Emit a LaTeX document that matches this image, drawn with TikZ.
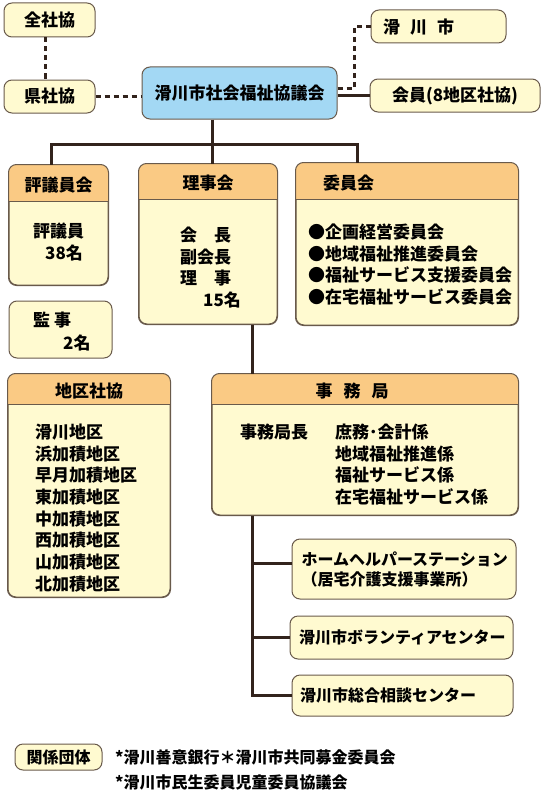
\documentclass[tikz,border=0pt]{standalone}
\usepackage{fontspec}
\setmainfont{Noto Sans CJK JP}
\usepackage{tikz}
\usepackage{xcolor}
\definecolor{creamfill}{RGB}{255,250,208}
\definecolor{headorange}{RGB}{250,202,132}
\definecolor{mainblue}{RGB}{163,216,244}
\definecolor{rimbrown}{RGB}{105,90,75}
\definecolor{linebrown}{RGB}{50,35,28}

\begin{document}
\begin{tikzpicture}[x=1pt, y=-1pt,
    panel/.style={draw=rimbrown, line width=1pt, fill=creamfill, rounded corners=8pt,
        inner sep=0pt, font=\bfseries\fontsize{17}{21.7}\selectfont},
    txt/.style={inner sep=0pt, anchor=west, align=left, font=\bfseries\fontsize{17}{21.7}\selectfont},
    small/.style={font=\bfseries\fontsize{16}{20}\selectfont},
    tree/.style={linebrown, line width=3pt},
    dots/.style={linebrown, line width=3pt, dash pattern=on 5pt off 4pt}]
    \useasboundingbox (0,0) rectangle (544,792);

    % Top row
    \node[panel, minimum width=91pt, minimum height=34pt] (zensha) at (49.5,20) {全社協};
    \node[panel, minimum width=91pt, minimum height=33pt] (kensha) at (49.5,96.5) {県社協};
    \node[panel, fill=mainblue, minimum width=195pt, minimum height=52pt] (main) at (239.5,93) {滑川市社会福祉協議会};
    \node[panel, minimum width=135pt, minimum height=33pt] (city) at (438.5,26.5) {};
    \node[txt] (city-t) at (383,27) {滑\hspace{10pt}川\hspace{10pt}市};
    \node[panel, minimum width=170pt, minimum height=33pt] (member) at (455,95.5) {会員(8地区社協)};

    % Boards
    \node[panel, minimum width=99pt, minimum height=120pt] (hyogi) at (58.5,225) {};
    \node[panel, minimum width=138pt, minimum height=160pt] (riji) at (208,244) {};
    \node[panel, minimum width=222pt, minimum height=162pt] (iin) at (407,244) {};
    \node[panel, minimum width=103pt, minimum height=57pt] (kanji) at (60.5,329.5) {};
    \node[panel, minimum width=162pt, minimum height=223pt] (chiku) at (89,485.5) {};
    \node[panel, minimum width=306pt, minimum height=141pt] (jimu) at (365,444.5) {};

    % Headers
    \foreach \n/\d in {hyogi/37pt, riji/36pt, iin/37pt, chiku/31pt, jimu/31pt} {
        \begin{scope}
            \clip[rounded corners=8pt] (\n.south west) rectangle (\n.north east);
            \fill[headorange] (\n.north west) rectangle ([yshift=-\d]\n.north east);
        \end{scope}
        \draw[rimbrown, line width=1pt] ([yshift=-\d]\n.north west) -- ([yshift=-\d]\n.north east);
        \draw[rimbrown, line width=1pt, rounded corners=8pt] (\n.south west) rectangle (\n.north east);
    }
    \node[txt, anchor=center] (hyogi-h) at (58.5,185) {評議員会};
    \node[txt, anchor=center] (riji-h) at (208,183) {理事会};
    \node[txt] (iin-h) at (323,183) {委員会};
    \node[txt, anchor=center] (chiku-h) at (89,391) {地区社協};
    \node[txt, anchor=center] (jimu-h) at (352,391) {事\hspace{11pt}務\hspace{11pt}局};

    % Board contents
    \node[txt] (hyogi-b) at (33,242) {評議員\\\hspace*{12pt}38名};
    \node[txt] (riji-b) at (180,267.5) {会　長\\副会長\\理　事\\\hspace*{23pt}15名};
    \node[txt] (iin-b) at (308,264.5) {●企画経営委員会\\●地域福祉推進委員会\\●福祉サービス支援委員会\\●在宅福祉サービス委員会};
    \node[txt] (kanji-b) at (33,331.5) {監\hspace{4pt}事\\[1.3pt]\hspace*{30pt}2名};
    \node[txt] (chiku-b) at (35,508) {滑川地区\\浜加積地区\\早月加積地区\\東加積地区\\中加積地区\\西加積地区\\山加積地区\\北加積地区};
    \node[txt] (jimu-l) at (240,432) {事務局長};
    \node[txt] (jimu-b) at (335,464.5) {庶務･会計係\\地域福祉推進係\\福祉サービス係\\在宅福祉サービス係};

    % Offices
    \node[panel, small, minimum width=224pt, minimum height=60pt, text width=205pt, align=left] (helper) at (404,569)
        {ホームヘルパーステーション\\（居宅介護支援事業所）};
    \node[panel, small, minimum width=223pt, minimum height=43pt, text width=205pt, align=left] (volun) at (401.5,637.5)
        {滑川市ボランティアセンター};
    \node[panel, small, minimum width=221pt, minimum height=41pt, text width=205pt, align=left] (sodan) at (402.5,695.5)
        {滑川市総合相談センター};

    % Related bodies
    \node[panel, small, minimum width=87pt, minimum height=26pt] (kankei) at (58.5,757) {関係団体};
    \node[txt, small, font=\bfseries\fontsize{16}{25}\selectfont] (kankei-t) at (115,769.5)
        {*滑川善意銀行＊滑川市共同募金委員会\\*滑川市民生委員児童委員協議会};

    % Connectors
    \draw[dots] ([xshift=-4pt]zensha.south) -- ([xshift=-4pt]kensha.north);
    \draw[dots] (kensha.east) -- (kensha.east -| main.west);
    \draw[dots] ([yshift=5pt]main.east) -- ++(17,0) |- (city.west);
    \draw[tree] (member.west -| main.east) -- (member.west);

    \coordinate (busL) at (51,144);
    \coordinate (busM) at (212,144);
    \coordinate (busR) at (357,144);
    \draw[tree] (main.south -| busM) -- (busM) -- (riji.north -| busM);
    \draw[tree] (hyogi.north -| busL) -- (busL) -- (busR) -- (iin.north -| busR);

    \coordinate (spine) at (252,0);
    \coordinate (helper-in) at ([yshift=6pt]helper.west);
    \draw[tree] (riji.south -| spine) -- (jimu.north -| spine);
    \draw[tree] (jimu.south -| spine) |- (sodan.west);
    \draw[tree] (spine |- helper-in) -- (helper-in);
    \draw[tree] (spine |- volun.west) -- (volun.west);

\end{tikzpicture}
\end{document}
